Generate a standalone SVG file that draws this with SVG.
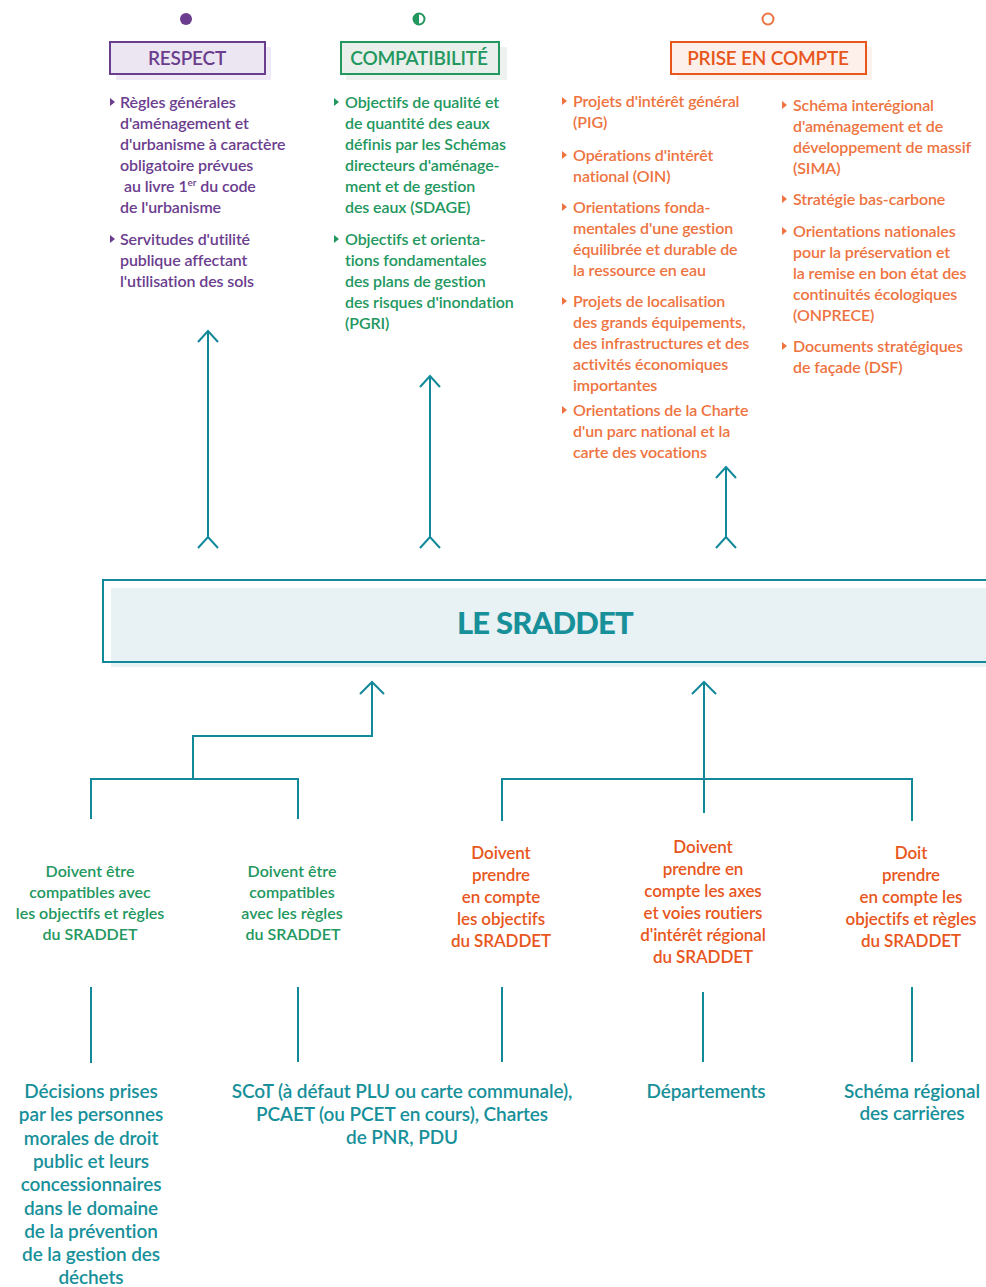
<svg xmlns="http://www.w3.org/2000/svg" width="986" height="1287" viewBox="0 0 986 1287">
<defs>
<style>
.t{font-family:Lato,"Open Sans","Liberation Sans",sans-serif;font-weight:600}
.lst{font-size:16px;letter-spacing:-0.1px}
.pu{fill:#6b3d8e}.gr{fill:#22975e}.or{fill:#ee7340}.orl{fill:#e8561c}.te{fill:#17909a}
.hd{font-size:19px;font-weight:600;text-anchor:middle;letter-spacing:-0.2px}
.lab{font-size:16px;text-anchor:middle;letter-spacing:0px}
.labo{font-size:17px;text-anchor:middle;letter-spacing:-0.1px}
.bot{font-size:19px;text-anchor:middle;letter-spacing:-0.1px}
.cn{fill:none;stroke:#12899a;stroke-width:2}
</style>
<path id="tri" d="M0,0 L5,4 L0,8 Z"/>
</defs>

<g id="legend-icons">
<circle cx="186" cy="19" r="6" fill="#6b3d8e"/>
<circle cx="419" cy="19" r="5.5" fill="#ffffff" stroke="#22975e" stroke-width="2"/>
<path d="M419,13.5 A5.5,5.5 0 0 0 419,24.5 Z" fill="#22975e"/>
<circle cx="768" cy="19" r="5.5" fill="none" stroke="#ee7340" stroke-width="2"/>
</g>

<g id="respect" class="t">
<rect x="116" y="47" width="155" height="33" fill="#efeaf5"/>
<rect x="110" y="42" width="155" height="32" fill="#ebe6f2" stroke="#6b3d8e" stroke-width="2"/>
<text x="187" y="65" class="hd pu">RESPECT</text>
<use href="#tri" x="110" y="98" class="pu"/>
<text class="lst pu" x="120" y="108">Règles générales</text>
<text class="lst pu" x="120" y="129">d'aménagement et</text>
<text class="lst pu" x="120" y="150">d'urbanisme à caractère</text>
<text class="lst pu" x="120" y="171">obligatoire prévues</text>
<text class="lst pu" x="124" y="192">au livre 1<tspan font-size="10" dy="-6">er</tspan><tspan dy="6"> du code</tspan></text>
<text class="lst pu" x="120" y="213">de l'urbanisme</text>
<use href="#tri" x="110" y="235" class="pu"/>
<text class="lst pu" x="120" y="245">Servitudes d'utilité</text>
<text class="lst pu" x="120" y="266">publique affectant</text>
<text class="lst pu" x="120" y="287">l'utilisation des sols</text>
</g>

<g id="compatibilite" class="t">
<rect x="346" y="47" width="161" height="33" fill="#eef2ef"/>
<rect x="341" y="42" width="158" height="32" fill="#e9efeb" stroke="#22975e" stroke-width="2"/>
<text x="419" y="65" class="hd gr">COMPATIBILITÉ</text>
<use href="#tri" x="334" y="98" class="gr"/>
<text class="lst gr" x="345" y="108">Objectifs de qualité et</text>
<text class="lst gr" x="345" y="129">de quantité des eaux</text>
<text class="lst gr" x="345" y="150">définis par les Schémas</text>
<text class="lst gr" x="345" y="171">directeurs d'aménage-</text>
<text class="lst gr" x="345" y="192">ment et de gestion</text>
<text class="lst gr" x="345" y="213">des eaux (SDAGE)</text>
<use href="#tri" x="334" y="235" class="gr"/>
<text class="lst gr" x="345" y="245">Objectifs et orienta-</text>
<text class="lst gr" x="345" y="266">tions fondamentales</text>
<text class="lst gr" x="345" y="287">des plans de gestion</text>
<text class="lst gr" x="345" y="308">des risques d'inondation</text>
<text class="lst gr" x="345" y="329">(PGRI)</text>
</g>

<g id="prise-en-compte" class="t">
<rect x="677" y="47" width="195" height="33" fill="#fdf3ee"/>
<rect x="671" y="42" width="195" height="32" fill="#fdf0ea" stroke="#e8561c" stroke-width="2"/>
<text x="768" y="65" class="hd orl">PRISE EN COMPTE</text>
<use href="#tri" x="562" y="97" class="or"/>
<text class="lst or" x="573" y="107">Projets d'intérêt général</text>
<text class="lst or" x="573" y="128">(PIG)</text>
<use href="#tri" x="562" y="151" class="or"/>
<text class="lst or" x="573" y="161">Opérations d'intérêt</text>
<text class="lst or" x="573" y="182">national (OIN)</text>
<use href="#tri" x="562" y="203" class="or"/>
<text class="lst or" x="573" y="213">Orientations fonda-</text>
<text class="lst or" x="573" y="234">mentales d'une gestion</text>
<text class="lst or" x="573" y="255">équilibrée et durable de</text>
<text class="lst or" x="573" y="276">la ressource en eau</text>
<use href="#tri" x="562" y="297" class="or"/>
<text class="lst or" x="573" y="307">Projets de localisation</text>
<text class="lst or" x="573" y="328">des grands équipements,</text>
<text class="lst or" x="573" y="349">des infrastructures et des</text>
<text class="lst or" x="573" y="370">activités économiques</text>
<text class="lst or" x="573" y="391">importantes</text>
<use href="#tri" x="562" y="406" class="or"/>
<text class="lst or" x="573" y="416">Orientations de la Charte</text>
<text class="lst or" x="573" y="437">d'un parc national et la</text>
<text class="lst or" x="573" y="458">carte des vocations</text>
<use href="#tri" x="782" y="101" class="or"/>
<text class="lst or" x="793" y="111">Schéma interégional</text>
<text class="lst or" x="793" y="132">d'aménagement et de</text>
<text class="lst or" x="793" y="153">développement de massif</text>
<text class="lst or" x="793" y="174">(SIMA)</text>
<use href="#tri" x="782" y="195" class="or"/>
<text class="lst or" x="793" y="205">Stratégie bas-carbone</text>
<use href="#tri" x="782" y="227" class="or"/>
<text class="lst or" x="793" y="237">Orientations nationales</text>
<text class="lst or" x="793" y="258">pour la préservation et</text>
<text class="lst or" x="793" y="279">la remise en bon état des</text>
<text class="lst or" x="793" y="300">continuités écologiques</text>
<text class="lst or" x="793" y="321">(ONPRECE)</text>
<use href="#tri" x="782" y="342" class="or"/>
<text class="lst or" x="793" y="352">Documents stratégiques</text>
<text class="lst or" x="793" y="373">de façade (DSF)</text>
</g>

<g id="sraddet" class="t">
<rect x="111" y="588" width="880" height="79" fill="#e8f1f3"/>
<rect x="103" y="580" width="890" height="82" fill="none" stroke="#12899a" stroke-width="2"/>
<text x="545" y="634" text-anchor="middle" font-size="31" font-weight="900" letter-spacing="-0.8" class="te">LE SRADDET</text>
</g>

<g id="connectors" class="cn">
<path d="M208,331 V537 M198,342 L208,331 L218,342 M198,548 L208,537 L218,548"/>
<path d="M430,376 V537 M420,387 L430,376 L440,387 M420,548 L430,537 L440,548"/>
<path d="M726,467 V537 M716,478 L726,467 L736,478 M716,548 L726,537 L736,548"/>
<path d="M372,682 V736 H193 V779 M360,694 L372,682 L384,694"/>
<path d="M91,819 V779 H298 V819"/>
<path d="M704,682 V813 M692,694 L704,682 L716,694"/>
<path d="M502,821 V779 H912 V821"/>
<path d="M91,987 V1063 M298,987 V1062 M502,987 V1062 M703,992 V1062 M912,987 V1062"/>
</g>

<g id="label-compat-1" class="t lab gr">
<text x="90" y="877">Doivent être</text>
<text x="90" y="898">compatibles avec</text>
<text x="90" y="919">les objectifs et règles</text>
<text x="90" y="940">du SRADDET</text>
</g>
<g id="label-compat-2" class="t lab gr">
<text x="292" y="877">Doivent être</text>
<text x="292" y="898">compatibles</text>
<text x="292" y="919">avec les règles</text>
<text x="293" y="940">du SRADDET</text>
</g>
<g id="label-pec-1" class="t labo orl">
<text x="501" y="859">Doivent</text>
<text x="501" y="881">prendre</text>
<text x="501" y="903">en compte</text>
<text x="501" y="925">les objectifs</text>
<text x="501" y="947">du SRADDET</text>
</g>
<g id="label-pec-2" class="t labo orl">
<text x="703" y="853">Doivent</text>
<text x="703" y="875">prendre en</text>
<text x="703" y="897">compte les axes</text>
<text x="703" y="919">et voies routiers</text>
<text x="703" y="941">d'intérêt régional</text>
<text x="703" y="963">du SRADDET</text>
</g>
<g id="label-pec-3" class="t labo orl">
<text x="911" y="859">Doit</text>
<text x="911" y="881">prendre</text>
<text x="911" y="903">en compte les</text>
<text x="911" y="925">objectifs et règles</text>
<text x="911" y="947">du SRADDET</text>
</g>

<g id="node-decisions" class="t bot te">
<text x="91" y="1098">Décisions prises</text>
<text x="91" y="1121">par les personnes</text>
<text x="91" y="1145">morales de droit</text>
<text x="91" y="1168">public et leurs</text>
<text x="91" y="1191">concessionnaires</text>
<text x="91" y="1215">dans le domaine</text>
<text x="91" y="1238">de la prévention</text>
<text x="91" y="1261">de la gestion des</text>
<text x="91" y="1284">déchets</text>
</g>
<g id="node-scot" class="t bot te">
<text x="402" y="1098">SCoT (à défaut PLU ou carte communale),</text>
<text x="402" y="1121">PCAET (ou PCET en cours), Chartes</text>
<text x="402" y="1144">de PNR, PDU</text>
</g>
<g id="node-departements" class="t bot te">
<text x="706" y="1098">Départements</text>
</g>
<g id="node-carrieres" class="t bot te">
<text x="912" y="1098">Schéma régional</text>
<text x="912" y="1120">des carrières</text>
</g>
</svg>
